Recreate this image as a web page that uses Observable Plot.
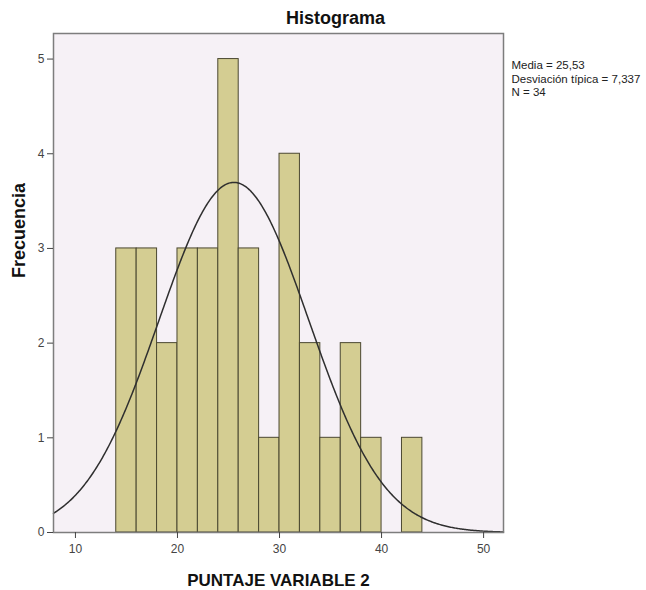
<!DOCTYPE html>
<html>
<head>
<meta charset="utf-8">
<script src="https://cdn.jsdelivr.net/npm/d3@7"></script>
<script src="https://cdn.jsdelivr.net/npm/@observablehq/plot@0.6"></script>
<style>
  html, body { margin: 0; padding: 0; background: #ffffff; }
  #chart svg { display: block; }
</style>
</head>
<body>
<div id="chart"></div>
<script>
// ---- Data ----
const binStarts = [14, 16, 18, 20, 22, 24, 26, 28, 30, 32, 34, 36, 38, 40, 42];
const binEnds   = [16, 18, 20, 22, 24, 26, 28, 30, 32, 34, 36, 38, 40, 42, 44];
const counts    = [3, 3, 2, 3, 3, 5, 3, 1, 4, 2, 1, 2, 1, 0, 1];
const xTicks = [10, 20, 30, 40, 50];
const yTicks = [0, 1, 2, 3, 4, 5];
const xDomain = [7.85, 51.95];
const yDomain = [0, 5.27];
const statsLines = ["Media = 25,53", "Desviación típica = 7,337", "N = 34"];
const meanValue = 25.53;
const sdValue = 7.337;
const nValue = 34;
const binWidth = 2;
const titleText = "Histograma";
const xLabel = "PUNTAJE VARIABLE 2";
const yLabel = "Frecuencia";

// ---- Derived tables ----
const bars = binStarts
  .map((s, i) => ({x1: s, x2: binEnds[i], count: counts[i]}))
  .filter(d => d.count > 0);

// Fitted normal curve (scaled to counts), as drawn by the reference
const curveXs = d3.range(xDomain[0], xDomain[1], 0.1).concat([xDomain[1]]);
const curve = curveXs.map(x => ({
  x,
  y: nValue * binWidth / (sdValue * Math.sqrt(2 * Math.PI)) *
     Math.exp(-0.5 * Math.pow((x - meanValue) / sdValue, 2))
}));

const chart = Plot.plot({
  width: 646,
  height: 590,
  marginLeft: 53,
  marginRight: 143,
  marginTop: 33,
  marginBottom: 58,
  style: {fontFamily: "'Liberation Sans', Arial, sans-serif", background: "#ffffff", overflow: "visible"},
  x: {domain: xDomain},
  y: {domain: yDomain},
  marks: [
    Plot.frame({fill: "#f6f1f6", stroke: null}),
    Plot.rectY(bars, {x1: "x1", x2: "x2", y: "count", fill: "#d4cd92", stroke: "#4b4831", strokeWidth: 1, inset: 0}),
    Plot.line(curve, {x: "x", y: "y", stroke: "#2f2f2f", strokeWidth: 1.5}),
    Plot.frame({stroke: "#7d7d7d", strokeWidth: 1.5}),
    Plot.axisX({ticks: xTicks, tickFormat: "d", tickSize: 6, tickPadding: 6, fontSize: 12, color: "#444", label: null}),
    Plot.axisY({ticks: yTicks, tickFormat: "d", tickSize: 6, tickPadding: 3, fontSize: 12, color: "#444", label: null}),
    Plot.text([titleText], {frameAnchor: "top", dx: 57, dy: -9.5, lineAnchor: "bottom", fontSize: 18, fontWeight: "bold", fill: "#111", ariaLabel: "title-label"}),
    Plot.text([xLabel], {frameAnchor: "bottom", dy: 53, lineAnchor: "bottom", fontSize: 17, fontWeight: "bold", fill: "#111", ariaLabel: "x-label"}),
    Plot.text([yLabel], {frameAnchor: "left", rotate: -90, dx: -34, dy: -5, lineAnchor: "middle", fontSize: 18, fontWeight: "bold", fill: "#111", ariaLabel: "y-label"}),
    Plot.text([statsLines.join("\n")], {frameAnchor: "top-right", textAnchor: "start", dx: 8, dy: 26.5, lineAnchor: "top", lineHeight: 1.16, fontSize: 11.5, fill: "#222"})
  ]
});

d3.select(chart).select('g[aria-label="x-label"] text')
  .attr("textLength", 168).attr("lengthAdjust", "spacingAndGlyphs");
d3.select(chart).select('g[aria-label="title-label"] text')
  .attr("textLength", 95).attr("lengthAdjust", "spacingAndGlyphs");
d3.select(chart).select('g[aria-label="y-label"] text')
  .attr("textLength", 105).attr("lengthAdjust", "spacingAndGlyphs");

document.getElementById("chart").appendChild(chart);
</script>
</body>
</html>
